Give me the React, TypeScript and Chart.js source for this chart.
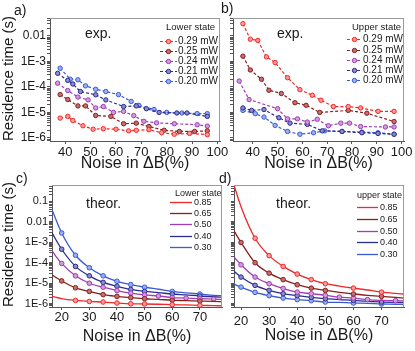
import React, { useEffect, useRef } from 'react';
import { Chart, registerables } from 'chart.js';

Chart.register(...registerables);

const FONT = '"Liberation Sans", Arial, Helvetica, sans-serif';

// ---------------- DATA ----------------
const expSeries = ['0.29 mW', '0.25 mW', '0.24 mW', '0.21 mW', '0.20 mW'];
const theorSeries = ['0.85', '0.65', '0.50', '0.40', '0.30'];

// a) experiment, lower state
const aX029 = [38, 41, 43, 47, 51, 55, 60, 65, 68, 73, 78, 83, 89, 96];
const aY029 = [6e-6, 7e-6, 4.8e-6, 3e-6, 2.2e-6, 2.3e-6, 2.2e-6, 1.9e-6, 2e-6, 2.1e-6, 1.6e-6, 1.4e-6, 1.5e-6, 1.35e-6];
const aX025 = [38, 41, 45, 48, 52, 58, 63, 68, 73, 79, 85, 91, 96];
const aY025 = [5e-5, 3.2e-5, 1.8e-5, 1.8e-5, 7.6e-6, 7e-6, 3.6e-6, 3.8e-6, 2.8e-6, 2e-6, 1.8e-6, 1.8e-6, 1.9e-6];
const aX024 = [37, 41, 45, 49, 52, 55, 59, 63, 67, 71, 76, 83, 92, 96];
const aY024 = [1.4e-4, 7.2e-5, 4e-5, 3.1e-5, 1.5e-5, 1.7e-5, 1e-5, 1.1e-5, 7.5e-6, 4.5e-6, 3.9e-6, 3.6e-6, 3.3e-6, 2.9e-6];
const aX021 = [37, 41, 43, 46, 52, 56, 63, 68, 72, 77, 84, 88, 96];
const aY021 = [3.4e-4, 1.8e-4, 1.3e-4, 6.6e-5, 4.9e-5, 3.1e-5, 1.7e-5, 1.8e-5, 1.4e-5, 1e-5, 9.5e-6, 9.5e-6, 7e-6];
const aX020 = [38, 42, 45, 48, 52, 56, 61, 66, 69, 75, 80, 86, 92, 96];
const aY020 = [5.4e-4, 2e-4, 1.9e-4, 1.1e-4, 8.1e-5, 6.6e-5, 5e-5, 2.7e-5, 1.9e-5, 1.3e-5, 1e-5, 9.5e-6, 9e-6, 9e-6];

// b) experiment, upper state
const bX029 = [36, 39, 42, 45.5, 49, 54, 59, 64, 67.5, 72.5, 78.5, 83.5, 90.5, 97];
const bY029 = [0.03, 7.4e-3, 6.6e-3, 1.5e-3, 9e-4, 2.3e-4, 7.8e-5, 4.7e-5, 3e-5, 1.7e-5, 1.7e-5, 1.5e-5, 1.1e-5, 1.1e-5];
const bX025 = [36, 39, 43.5, 46.5, 51.5, 57, 61.5, 67, 78.5, 86, 97];
const bY025 = [1.6e-3, 4.6e-4, 2e-4, 7.4e-5, 5.5e-5, 2.4e-5, 1.9e-5, 1e-5, 1.2e-5, 9.3e-6, 4.4e-6];
const bX024 = [34.5, 38.5, 50, 54, 58, 62, 66, 70.5, 75.5, 79, 83.5, 93.5, 97];
const bY024 = [1.7e-4, 3.2e-5, 1.4e-5, 5.6e-6, 5.6e-6, 4.2e-6, 5.4e-6, 3e-6, 3.8e-6, 3.8e-6, 2.8e-6, 2.7e-6, 2.7e-6];
const bX021 = [36, 39.5, 44.5, 50.5, 55, 62, 68, 76, 84, 90.5, 97];
const bY021 = [1.5e-5, 1.2e-5, 1.3e-5, 6.2e-6, 3.8e-6, 3.4e-6, 1.9e-6, 1.8e-6, 1.6e-6, 1.5e-6, 1.4e-6];
const bX020 = [36, 41, 44.5, 49, 54, 59, 64.5, 69, 76, 84, 90.5, 97];
const bY020 = [1.2e-5, 8.9e-6, 6.6e-6, 3.1e-6, 1.8e-6, 1.4e-6, 1.6e-6, 1.9e-6, 1.8e-6, 1.7e-6, 1.6e-6, 1.4e-6];

// c) theory, lower state
const cX = [16.5, 20, 25, 30, 35, 40, 45, 50, 55, 60, 65, 70, 75, 78];
const cY085 = [2.3e-6, 1.8e-6, 1.47e-6, 1.3e-6, 1.22e-6, 1.09e-6, 1.0e-6, 9.8e-7, 9.5e-7, 9.1e-7, 8.8e-7, 8.4e-7, 8.2e-7, 8.0e-7];
const cY065 = [2.5e-5, 1.3e-5, 6.0e-6, 4.0e-6, 2.8e-6, 2.3e-6, 2.0e-6, 1.76e-6, 1.64e-6, 1.5e-6, 1.43e-6, 1.36e-6, 1.3e-6, 1.28e-6];
const cY050 = [3.7e-4, 9.2e-5, 2.3e-5, 1.0e-5, 6.4e-6, 4.4e-6, 3.3e-6, 2.7e-6, 2.4e-6, 2.0e-6, 1.9e-6, 1.76e-6, 1.7e-6, 1.64e-6];
const cY040 = [2.8e-3, 4.5e-4, 6.6e-5, 2.3e-5, 1.1e-5, 7.2e-6, 5.0e-6, 4.0e-6, 3.5e-6, 3.0e-6, 2.7e-6, 2.4e-6, 2.2e-6, 2.1e-6];
const cY030 = [3.8e-2, 2.8e-3, 2.3e-4, 5.7e-5, 2.3e-5, 1.25e-5, 8.6e-6, 6.4e-6, 5.1e-6, 4.0e-6, 3.4e-6, 3.0e-6, 2.6e-6, 2.5e-6];
const cM085 = [25, 30, 35, 40, 45, 50, 60, 70];
const cM065 = [20, 25, 30, 35, 40, 45, 50, 60, 70];
const cM050 = [20, 25, 30, 35, 40, 45, 50, 55, 60, 65, 70, 75];
const cM040 = [20, 25, 30, 35, 40, 45, 50, 60, 70];
const cM030 = [20, 25, 30, 35, 40, 45, 50, 60, 70];

// d) theory, upper state
const dX = [17.5, 20, 25, 30, 35, 40, 45, 50, 55, 60, 65, 70, 75, 78];
const dY085 = [0.6, 5.3e-2, 1.55e-3, 2.2e-4, 6.6e-5, 2.8e-5, 1.5e-5, 9.5e-6, 7.3e-6, 5.8e-6, 4.7e-6, 3.7e-6, 3.2e-6, 3.0e-6];
const dY065 = [3.5e-3, 9.6e-4, 1.0e-4, 3.1e-5, 1.5e-5, 8.5e-6, 5.8e-6, 4.5e-6, 3.6e-6, 3.0e-6, 2.6e-6, 2.3e-6, 2.06e-6, 1.9e-6];
const dY050 = [1.9e-4, 7.9e-5, 2.0e-5, 9.5e-6, 5.6e-6, 3.7e-6, 3.1e-6, 2.6e-6, 2.1e-6, 1.9e-6, 1.6e-6, 1.47e-6, 1.42e-6, 1.37e-6];
const dY040 = [3.8e-5, 2.0e-5, 7.9e-6, 4.5e-6, 3.1e-6, 2.5e-6, 2.06e-6, 1.77e-6, 1.6e-6, 1.47e-6, 1.3e-6, 1.22e-6, 1.17e-6, 1.15e-6];
const dY030 = [9.2e-6, 6.5e-6, 3.6e-6, 2.5e-6, 1.9e-6, 1.6e-6, 1.42e-6, 1.22e-6, 1.17e-6, 1.09e-6, 1.05e-6, 9.8e-7, 9.5e-7, 9.2e-7];
const dM085 = [25, 30, 35, 40, 45, 50, 60, 70];
const dM065 = [20, 25, 30, 35, 40, 45, 50, 60, 70];
const dM050 = [20, 25, 30, 35, 40, 45, 50, 55, 60, 65, 75];
const dM040 = [20, 25, 30, 35, 40, 45, 50, 60, 70];
const dM030 = [20, 25, 30, 35, 40, 45, 50, 60, 70];

// tick labels
const topXTicks = [40, 50, 60, 70, 80, 90, 100];
const botXTicks = [20, 30, 40, 50, 60, 70];
const topYTicks = [1e-6, 1e-5, 1e-4, 1e-3, 0.01];
const topYLabels = ['1E-6', '1E-5', '1E-4', '1E-3', '0.01'];
const botYTicks = [1e-6, 1e-5, 1e-4, 1e-3, 0.01, 0.1];
const botYLabels = ['1E-6', '1E-5', '1E-4', '1E-3', '0.01', '0.1'];

// ---------------- STYLE ----------------
const LINE = ['#f02828', '#8a1e1e', '#a03cb4', '#2c2c8c', '#3a5ad6'];
const FILL = ['#ff9a9a', '#c07070', '#d29ae0', '#8a8ad0', '#9ab0f0'];
const TEXT = '#1a1a1a';

function expDs(i: number, xs: number[], ys: number[]) {
  return {
    label: expSeries[i],
    data: xs.map((x, k) => ({ x, y: ys[k] })),
    borderColor: LINE[i],
    backgroundColor: FILL[i],
    borderWidth: 1.2,
    borderDash: [3, 2],
    pointRadius: 2.2,
    pointBackgroundColor: FILL[i],
    pointBorderColor: LINE[i],
    pointBorderWidth: 1,
    tension: 0,
    fill: false,
  };
}

function theorDs(i: number, xs: number[], ys: number[], marks: number[]) {
  return {
    label: theorSeries[i],
    data: xs.map((x, k) => ({ x, y: ys[k] })),
    borderColor: LINE[i],
    backgroundColor: FILL[i],
    borderWidth: 1.3,
    pointRadius: xs.map((x) => (marks.includes(x) ? 2.3 : 0)),
    pointBackgroundColor: FILL[i],
    pointBorderColor: LINE[i],
    pointBorderWidth: 1,
    cubicInterpolationMode: 'monotone',
    fill: false,
  };
}

const boxLegend = {
  id: 'boxLegend',
  afterDraw(chart: any, _a: any, opts: any) {
    if (!opts || !opts.title) return;
    const { ctx, chartArea } = chart;
    const r = chartArea.right;
    const t = chartArea.top;
    ctx.save();
    ctx.textBaseline = 'middle';
    ctx.textAlign = 'left';
    ctx.fillStyle = TEXT;
    ctx.font = `${opts.titleSize}px ${FONT}`;
    ctx.fillText(opts.title, r + opts.titleDx, t + opts.titleDy);
    ctx.font = `${opts.size}px ${FONT}`;
    chart.data.datasets.forEach((ds: any, i: number) => {
      const y = Math.round(t + opts.rowDy + i * opts.rowH) + 0.5;
      const x0 = r + opts.lineDx;
      ctx.strokeStyle = ds.borderColor;
      ctx.lineWidth = ds.borderWidth;
      ctx.setLineDash(ds.borderDash || []);
      ctx.beginPath();
      ctx.moveTo(x0, y);
      ctx.lineTo(x0 + opts.lineLen, y);
      ctx.stroke();
      ctx.setLineDash([]);
      if (opts.marker) {
        ctx.beginPath();
        ctx.arc(x0 + opts.lineLen / 2, y, 2.2, 0, Math.PI * 2);
        ctx.fillStyle = ds.pointBackgroundColor;
        ctx.fill();
        ctx.lineWidth = 1;
        ctx.strokeStyle = ds.borderColor;
        ctx.stroke();
      }
      ctx.fillStyle = TEXT;
      ctx.fillText(ds.label, r + opts.textDx, y);
    });
    ctx.restore();
  },
};

const frame = {
  id: 'frame',
  afterDraw(chart: any) {
    const { ctx, chartArea } = chart;
    const { left, top, right, bottom } = chartArea;
    ctx.save();
    ctx.strokeStyle = '#9a9a9a';
    ctx.lineWidth = 1;
    ctx.beginPath();
    ctx.moveTo(left, Math.round(top) + 0.5);
    ctx.lineTo(right, Math.round(top) + 0.5);
    ctx.moveTo(Math.round(right) - 0.5, top);
    ctx.lineTo(Math.round(right) - 0.5, bottom);
    ctx.stroke();
    ctx.restore();
  },
};

function logTickValues(min: number, max: number) {
  const out: number[] = [];
  for (let e = Math.floor(Math.log10(min)); e <= Math.ceil(Math.log10(max)); e++) {
    for (let m = 1; m <= 9; m++) {
      const v = m * Math.pow(10, e);
      if (v >= min && v <= max) out.push(v);
    }
  }
  return out;
}

function labelFor(v: number, ticks: number[], labels: string[]) {
  const idx = ticks.findIndex((t) => Math.abs(Math.log10(t) - Math.log10(v)) < 1e-6);
  return idx >= 0 ? labels[idx] : '';
}

type Panel = {
  datasets: any[];
  xMin: number; xMax: number; xTicks: number[];
  yMin: number; yMax: number; yTicks: number[] | null; yLabels: string[] | null;
  padTop: number; padRight: number; yWidth: number; xHeight: number;
  xTickSize: number; yTickSize: number; xTickPad: number; xTitlePad: number;
  yTitle: boolean; legend: any;
};

function buildConfig(p: Panel): any {
  return {
    type: 'line',
    data: { datasets: p.datasets },
    options: {
      responsive: false,
      animation: false,
      devicePixelRatio: 1,
      layout: { padding: { left: 0, top: p.padTop, right: p.padRight, bottom: 0 } },
      plugins: {
        legend: { display: false },
        tooltip: { enabled: false },
        boxLegend: p.legend,
      },
      scales: {
        x: {
          type: 'linear',
          min: p.xMin,
          max: p.xMax,
          afterFit: (s: any) => { s.height = p.xHeight; },
          afterBuildTicks: (s: any) => { s.ticks = p.xTicks.map((v) => ({ value: v })); },
          ticks: { font: { family: FONT, size: p.xTickSize }, color: TEXT, padding: p.xTickPad, maxRotation: 0, autoSkip: false },
          grid: { drawOnChartArea: false, tickLength: 3, color: '#555' },
          border: { color: '#555', width: 1 },
          title: {
            display: true, text: 'Noise in ΔB(%)', color: TEXT,
            font: { family: FONT, size: 16 }, padding: { top: 0, bottom: p.xTitlePad },
          },
        },
        y: {
          type: 'logarithmic',
          min: p.yMin,
          max: p.yMax,
          afterFit: (s: any) => { s.width = p.yWidth; },
          afterBuildTicks: (s: any) => { s.ticks = logTickValues(p.yMin, p.yMax).map((v) => ({ value: v })); },
          ticks: {
            display: !!p.yLabels,
            autoSkip: false,
            padding: 1,
            color: TEXT,
            font: { family: FONT, size: p.yTickSize },
            callback: (v: any) => (p.yTicks && p.yLabels ? labelFor(Number(v), p.yTicks, p.yLabels) : ''),
          },
          grid: { drawOnChartArea: false, tickLength: 3, color: '#555' },
          border: { color: '#555', width: 1 },
          title: {
            display: p.yTitle, text: 'Residence time (s)', align: 'start', color: TEXT,
            font: { family: FONT, size: 15 }, padding: 0,
          },
        },
      },
    },
    plugins: [boxLegend, frame],
  };
}

const panels: { left: number; top: number; w: number; h: number; p: Panel }[] = [
  {
    left: 0, top: 0, w: 232, h: 175,
    p: {
      datasets: [expDs(0, aX029, aY029), expDs(1, aX025, aY025), expDs(2, aX024, aY024), expDs(3, aX021, aY021), expDs(4, aX020, aY020)],
      xMin: 34, xMax: 101, xTicks: topXTicks,
      yMin: 7.6e-7, yMax: 0.05, yTicks: topYTicks, yLabels: topYLabels,
      padTop: 18, padRight: 12, yWidth: 50, xHeight: 34,
      xTickSize: 13, yTickSize: 12, xTickPad: 1, xTitlePad: 2, yTitle: true,
      legend: { title: 'Lower state', titleDx: -54, titleDy: 9, lineDx: -60, lineLen: 17, textDx: -42, rowDy: 22.7, rowH: 10.1, size: 10, titleSize: 9.5, marker: true },
    },
  },
  {
    left: 226, top: 0, w: 189, h: 175,
    p: {
      datasets: [expDs(0, bX029, bY029), expDs(1, bX025, bY025), expDs(2, bX024, bY024), expDs(3, bX021, bY021), expDs(4, bX020, bY020)],
      xMin: 32, xMax: 101, xTicks: topXTicks,
      yMin: 7.6e-7, yMax: 0.05, yTicks: null, yLabels: null,
      padTop: 18, padRight: 11, yWidth: 7, xHeight: 34,
      xTickSize: 13, yTickSize: 12, xTickPad: 1, xTitlePad: 2, yTitle: false,
      legend: { title: 'Upper state', titleDx: -52, titleDy: 9, lineDx: -57, lineLen: 15, textDx: -41, rowDy: 21.3, rowH: 10.25, size: 10, titleSize: 9.5, marker: true },
    },
  },
  {
    left: 0, top: 175, w: 232, h: 176,
    p: {
      datasets: [theorDs(0, cX, cY085, cM085), theorDs(1, cX, cY065, cM065), theorDs(2, cX, cY050, cM050), theorDs(3, cX, cY040, cM040), theorDs(4, cX, cY030, cM030)],
      xMin: 16.5, xMax: 78, xTicks: botXTicks,
      yMin: 7e-7, yMax: 0.6, yTicks: botYTicks, yLabels: botYLabels,
      padTop: 10, padRight: 10, yWidth: 52, xHeight: 44,
      xTickSize: 13, yTickSize: 11, xTickPad: 0, xTitlePad: 5, yTitle: true,
      legend: { title: 'Lower state', titleDx: -47, titleDy: 9, lineDx: -52, lineLen: 22, textDx: -28, rowDy: 17, rowH: 11.2, size: 9, titleSize: 9, marker: false },
    },
  },
  {
    left: 226, top: 175, w: 189, h: 176,
    p: {
      datasets: [theorDs(0, dX, dY085, dM085), theorDs(1, dX, dY065, dM065), theorDs(2, dX, dY050, dM050), theorDs(3, dX, dY040, dM040), theorDs(4, dX, dY030, dM030)],
      xMin: 17.5, xMax: 78, xTicks: botXTicks,
      yMin: 7e-7, yMax: 0.6, yTicks: null, yLabels: null,
      padTop: 10, padRight: 11, yWidth: 8, xHeight: 44,
      xTickSize: 13, yTickSize: 11, xTickPad: 4, xTitlePad: 6, yTitle: false,
      legend: { title: 'upper state', titleDx: -47, titleDy: 11, lineDx: -47, lineLen: 21, textDx: -24, rowDy: 22, rowH: 11.8, size: 9, titleSize: 9, marker: false },
    },
  },
];

const texts: { s: string; left: number; top: number; size: number }[] = [
  { s: 'a)', left: 14, top: 3, size: 14 },
  { s: 'b)', left: 221, top: 1, size: 14 },
  { s: 'c)', left: 16, top: 171, size: 14 },
  { s: 'd)', left: 219, top: 171, size: 14 },
  { s: 'exp.', left: 85, top: 26, size: 14 },
  { s: 'exp.', left: 277, top: 26, size: 14 },
  { s: 'theor.', left: 86, top: 196, size: 14 },
  { s: 'theor.', left: 276, top: 196, size: 14 },
];

export default function App() {
  const refs = useRef<(HTMLCanvasElement | null)[]>([]);
  useEffect(() => {
    const charts = panels.map((pn, i) => new Chart(refs.current[i] as HTMLCanvasElement, buildConfig(pn.p)));
    return () => charts.forEach((c) => c.destroy());
  }, []);
  return (
    <div style={{ position: 'fixed', left: 0, top: 0, width: 415, height: 351, background: '#fff', overflow: 'hidden' }}>
      {panels.map((pn, i) => (
        <canvas
          key={i}
          ref={(el) => { refs.current[i] = el; }}
          width={pn.w}
          height={pn.h}
          style={{ position: 'absolute', left: pn.left, top: pn.top, width: pn.w, height: pn.h, display: 'block' }}
        />
      ))}
      {texts.map((t, i) => (
        <div key={'t' + i} style={{ position: 'absolute', left: t.left, top: t.top, fontSize: t.size, fontFamily: FONT, lineHeight: 1, color: TEXT, whiteSpace: 'nowrap' }}>
          {t.s}
        </div>
      ))}
    </div>
  );
}
